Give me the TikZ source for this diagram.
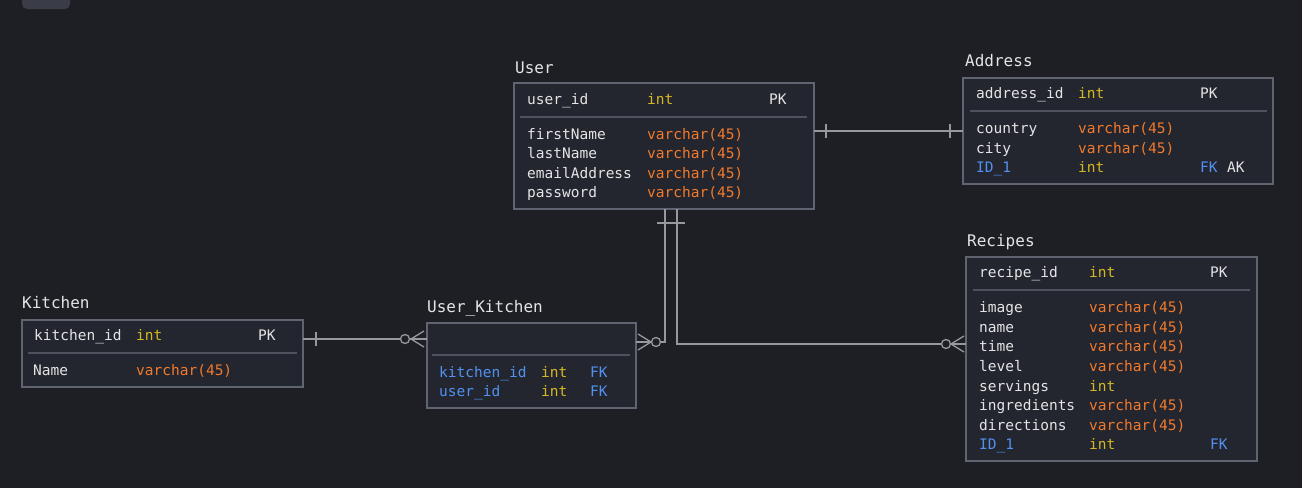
\documentclass[tikz,border=0pt]{standalone}
\usepackage{fontspec}
\setmonofont{DejaVu Sans Mono}
\usepackage{xcolor}
\definecolor{BgGray}{RGB}{30,31,36}
\definecolor{TabGray}{RGB}{58,61,72}
\definecolor{BoxFill}{RGB}{35,38,46}
\definecolor{BoxLine}{RGB}{96,100,112}
\definecolor{DivLine}{RGB}{78,82,92}
\definecolor{LinkGray}{RGB}{150,152,158}
\definecolor{TxtWhite}{RGB}{228,228,230}
\definecolor{TypYellow}{RGB}{214,184,36}
\definecolor{TypOrange}{RGB}{242,122,44}
\definecolor{KeyBlue}{RGB}{82,145,242}

\tikzset{
  tbl/.style={draw=BoxLine, fill=BoxFill, line width=2.5pt, anchor=north west, inner sep=0pt, outer sep=0pt},
  ttl/.style={anchor=base west, inner sep=0pt, text=TxtWhite, font=\ttfamily\fontsize{16}{18}\selectfont},
  fld/.style={anchor=base west, inner sep=0pt, font=\ttfamily\fontsize{14.5}{17}\selectfont},
  divline/.style={draw=DivLine, line width=1.5pt},
  rel/.style={draw=LinkGray, line width=1.3pt},
}

\begin{document}
\begin{tikzpicture}[x=1pt,y=1pt,yscale=-1,xscale=1]
		% Canvas of 1302 x 488, dark background
		\useasboundingbox (0,0) rectangle (1302,488);
		\fill[BgGray] (0,0) rectangle (1302,488);

		% The small tab cut at the top left
		\fill[TabGray, rounded corners=5pt] (22,-8) rectangle (70,9);

		% Table boxes
		\node[tbl, minimum width=300pt, minimum height=126pt] (user) at (514,83) {};
		\node[tbl, minimum width=310pt, minimum height=106pt] (address) at (963,78) {};
		\node[tbl, minimum width=281pt, minimum height=67pt] (kitchen) at (22,320) {};
		\node[tbl, minimum width=209pt, minimum height=85pt] (ukitchen) at (427,323) {};
		\node[tbl, minimum width=291pt, minimum height=204pt] (recipes) at (966,257) {};

		% Lines under the key rows
		\draw[divline] (520,117) -- (807,117);
		\draw[divline] (970,111) -- (1267,111);
		\draw[divline] (28,353) -- (297,353);
		\draw[divline] (432,355) -- (630,355);
		\draw[divline] (973,290) -- (1250,290);

		% Table "User"
		\node[ttl] (userT) at (515,73) {User};
		\node[fld, text=TxtWhite] (userF1) at (527,104) {user\_id};
		\node[fld, text=TypYellow] (userY1) at (647,104) {int};
		\node[fld, text=TxtWhite] (userK1) at (769,104) {PK};
		\node[fld, text=TxtWhite] (userF2) at (527,139) {firstName};
		\node[fld, text=TypOrange] (userY2) at (647,139) {varchar(45)};
		\node[fld, text=TxtWhite] (userF3) at (527,158) {lastName};
		\node[fld, text=TypOrange] (userY3) at (647,158) {varchar(45)};
		\node[fld, text=TxtWhite] (userF4) at (527,178) {emailAddress};
		\node[fld, text=TypOrange] (userY4) at (647,178) {varchar(45)};
		\node[fld, text=TxtWhite] (userF5) at (527,197) {password};
		\node[fld, text=TypOrange] (userY5) at (647,197) {varchar(45)};

		% Table "Address"
		\node[ttl] (addressT) at (965,66) {Address};
		\node[fld, text=TxtWhite] (addressF1) at (976,98) {address\_id};
		\node[fld, text=TypYellow] (addressY1) at (1078,98) {int};
		\node[fld, text=TxtWhite] (addressK1) at (1200,98) {PK};
		\node[fld, text=TxtWhite] (addressF2) at (976,133) {country};
		\node[fld, text=TypOrange] (addressY2) at (1078,133) {varchar(45)};
		\node[fld, text=TxtWhite] (addressF3) at (976,153) {city};
		\node[fld, text=TypOrange] (addressY3) at (1078,153) {varchar(45)};
		\node[fld, text=KeyBlue] (addressF4) at (976,172) {ID\_1};
		\node[fld, text=TypYellow] (addressY4) at (1078,172) {int};
		\node[fld, text=KeyBlue] (addressK4) at (1200,172) {FK};
		\node[fld, text=TxtWhite] (addressA4) at (1227,172) {AK};

		% Table "Kitchen"
		\node[ttl] (kitchenT) at (22,308) {Kitchen};
		\node[fld, text=TxtWhite] (kitchenF1) at (34,340) {kitchen\_id};
		\node[fld, text=TypYellow] (kitchenY1) at (136,340) {int};
		\node[fld, text=TxtWhite] (kitchenK1) at (258,340) {PK};
		\node[fld, text=TxtWhite] (kitchenF2) at (33,375) {Name};
		\node[fld, text=TypOrange] (kitchenY2) at (136,375) {varchar(45)};

		% Table "User_Kitchen"
		\node[ttl] (ukitchenT) at (427,312) {User\_Kitchen};
		\node[fld, text=KeyBlue] (ukitchenF1) at (439,377) {kitchen\_id};
		\node[fld, text=TypYellow] (ukitchenY1) at (541,377) {int};
		\node[fld, text=KeyBlue] (ukitchenK1) at (590,377) {FK};
		\node[fld, text=KeyBlue] (ukitchenF2) at (439,396) {user\_id};
		\node[fld, text=TypYellow] (ukitchenY2) at (541,396) {int};
		\node[fld, text=KeyBlue] (ukitchenK2) at (590,396) {FK};

		% Table "Recipes"
		\node[ttl] (recipesT) at (967,246) {Recipes};
		\node[fld, text=TxtWhite] (recipesF1) at (979,277) {recipe\_id};
		\node[fld, text=TypYellow] (recipesY1) at (1089,277) {int};
		\node[fld, text=TxtWhite] (recipesK1) at (1210,277) {PK};
		\node[fld, text=TxtWhite] (recipesF2) at (979,312) {image};
		\node[fld, text=TypOrange] (recipesY2) at (1089,312) {varchar(45)};
		\node[fld, text=TxtWhite] (recipesF3) at (979,332) {name};
		\node[fld, text=TypOrange] (recipesY3) at (1089,332) {varchar(45)};
		\node[fld, text=TxtWhite] (recipesF4) at (979,351) {time};
		\node[fld, text=TypOrange] (recipesY4) at (1089,351) {varchar(45)};
		\node[fld, text=TxtWhite] (recipesF5) at (979,371) {level};
		\node[fld, text=TypOrange] (recipesY5) at (1089,371) {varchar(45)};
		\node[fld, text=TxtWhite] (recipesF6) at (979,391) {servings};
		\node[fld, text=TypYellow] (recipesY6) at (1089,391) {int};
		\node[fld, text=TxtWhite] (recipesF7) at (979,410) {ingredients};
		\node[fld, text=TypOrange] (recipesY7) at (1089,410) {varchar(45)};
		\node[fld, text=TxtWhite] (recipesF8) at (979,430) {directions};
		\node[fld, text=TypOrange] (recipesY8) at (1089,430) {varchar(45)};
		\node[fld, text=KeyBlue] (recipesF9) at (979,449) {ID\_1};
		\node[fld, text=TypYellow] (recipesY9) at (1089,449) {int};
		\node[fld, text=KeyBlue] (recipesK9) at (1210,449) {FK};

		% Heights and bends of the relation lines
		\coordinate (lnkUA) at (0,131);
		\coordinate (lnkKU) at (0,339);
		\coordinate (lnkUK) at (665,342);
		\coordinate (lnkUR) at (677,344);

		% User -- Address (one to one)
		\draw[rel] (user.east |- lnkUA) -- (address.west |- lnkUA);
		\draw[rel] (user.east |- lnkUA) ++(12,-7) -- ++(0,14);
		\draw[rel] (address.west |- lnkUA) ++(-13,-7) -- ++(0,14);

		% Kitchen -- User_Kitchen (one to many)
		\draw[rel] (kitchen.east |- lnkKU) -- (ukitchen.west |- lnkKU);
		\draw[rel] (kitchen.east |- lnkKU) ++(13,-7) -- ++(0,14);
		\draw[rel, fill=BgGray] (ukitchen.west |- lnkKU) ++(-22,0) circle (4.5);
		\draw[rel] (ukitchen.west |- lnkKU) ++(-3,-8) -- ++(-13,8) -- ++(13,8);

		% User -- User_Kitchen (one to many)
		\draw[rel] (user.south -| lnkUK) -- (lnkUK) -- (ukitchen.east |- lnkUK);
		\draw[rel] (user.south -| lnkUK) ++(-8,14) -- ++(16,0);
		\draw[rel, fill=BgGray] (ukitchen.east |- lnkUK) ++(20,0) circle (4.5);
		\draw[rel] (ukitchen.east |- lnkUK) ++(2,-8) -- ++(13,8) -- ++(-13,8);

		% User -- Recipes (one to many)
		\draw[rel] (user.south -| lnkUR) -- (lnkUR) -- (recipes.west |- lnkUR);
		\draw[rel] (user.south -| lnkUR) ++(-8,14) -- ++(16,0);
		\draw[rel, fill=BgGray] (recipes.west |- lnkUR) ++(-20,0) circle (4.5);
		\draw[rel] (recipes.west |- lnkUR) ++(-2,-8) -- ++(-13,8) -- ++(13,8);
	\end{tikzpicture}
\end{document}
